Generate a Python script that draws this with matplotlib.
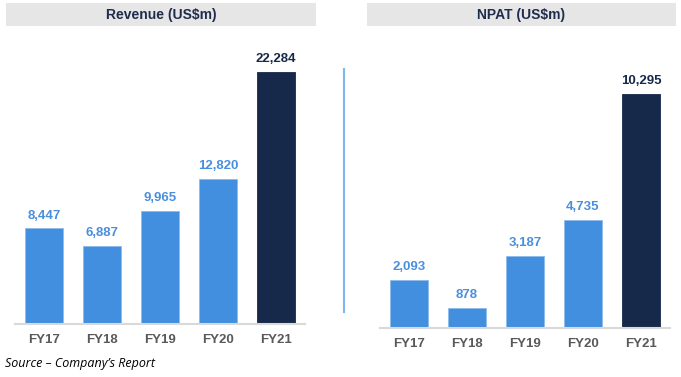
import matplotlib
matplotlib.use("Agg")
import matplotlib.pyplot as plt
from matplotlib.patches import Rectangle
from matplotlib.lines import Line2D

plt.rcParams['font.family'] = ['Liberation Sans', 'DejaVu Sans']

categories = ["FY17", "FY18", "FY19", "FY20", "FY21"]
revenue = [8447, 6887, 9965, 12820, 22284]
npat = [2093, 878, 3187, 4735, 10295]
titles = ["Revenue (US$m)", "NPAT (US$m)"]

LIGHT = "#418FDE"
DARK = "#16294A"
colors = [LIGHT, LIGHT, LIGHT, LIGHT, DARK]
label_colors = ["#4A8FDD"] * 4 + [DARK]

W, H = 681, 377
fig = plt.figure(figsize=(W / 100, H / 100), dpi=100)

def fx(px):
    return px / W

def fy(py):
    return 1 - py / H

panels = [
    (15, 305, 324, 40, 6, 316, revenue, 25113),
    (380, 670, 328, 40, 367, 676, npat, 12671),
]

for (x0, x1, yb, yt, tx0, tx1, vals, ymax), title in zip(panels, titles):
    ax = fig.add_axes([fx(x0), fy(yb), fx(x1 - x0), (yb - yt) / H])
    xs = range(len(categories))
    bars = ax.bar(xs, vals, width=0.655, color=colors, edgecolor="#8DBBEA",
                  linewidth=0.6, zorder=2)
    bars[-1].set_edgecolor(DARK)
    ax.set_xlim(-0.5, 4.5)
    ax.set_ylim(0, ymax)
    for x, v, c in zip(xs, vals, label_colors):
        ax.annotate(f"{v:,}", (x, v), xytext=(0, 5), textcoords="offset points",
                    ha="center", va="bottom", fontsize=9.5, fontweight="bold",
                    color=c)
    ax.set_xticks(list(xs))
    ax.set_xticklabels(categories, fontsize=9.5, fontweight="bold", color="#595959")
    ax.tick_params(axis="x", length=0, pad=7)
    ax.set_yticks([])
    for s in ["top", "right", "left"]:
        ax.spines[s].set_visible(False)
    ax.spines["bottom"].set_color("#D9D9D9")
    ax.spines["bottom"].set_linewidth(1.5)
    ax.patch.set_alpha(0)

    fig.patches.append(Rectangle((fx(tx0), fy(26)), fx(tx1 - tx0), 23 / H,
                                 transform=fig.transFigure, facecolor="#E6E6E6",
                                 edgecolor="none", zorder=0))
    fig.text(fx((tx0 + tx1) / 2), fy(14.5), title, ha="center", va="center",
             fontsize=10, fontweight="bold", color="#1F2D4D")

fig.add_artist(Line2D([fx(343.5), fx(343.5)], [fy(69), fy(312)],
                      transform=fig.transFigure, color="#7EB6F2", linewidth=1.5))

fig.text(fx(5), fy(363), "Source \u2013 Company\u2019s Report", ha="left", va="center",
         fontsize=9, fontstyle="italic", color="black",
         family=["Open Sans", "DejaVu Sans"])

fig.savefig("out.png", dpi=100)
